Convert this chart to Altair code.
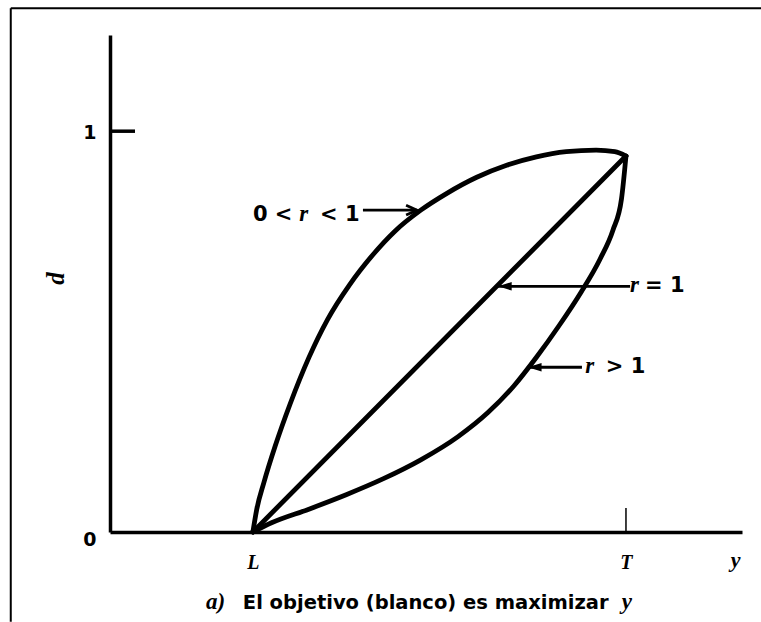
import altair as alt
import pandas as pd

# Response scaled so that L -> 0 and T -> 1; d is the desirability.
t_concave = [0.0, 0.01, 0.03, 0.06, 0.10, 0.15, 0.20, 0.26, 0.32, 0.38,
             0.45, 0.52, 0.60, 0.68, 0.76, 0.84, 0.92, 0.97, 1.0]
d_concave = [0.0, 0.055, 0.125, 0.215, 0.320, 0.435, 0.530, 0.618, 0.690, 0.750,
             0.803, 0.845, 0.885, 0.915, 0.936, 0.949, 0.953, 0.949, 0.938]
t_linear = [0.0, 1.0]
d_linear = [0.0, 0.938]
t_convex = [0.0, 0.05, 0.15, 0.25, 0.35, 0.45, 0.55, 0.63, 0.70, 0.76,
            0.82, 0.88, 0.93, 0.965, 0.988, 1.0]
d_convex = [0.0, 0.023, 0.057, 0.093, 0.133, 0.180, 0.238, 0.298, 0.365, 0.436,
            0.514, 0.599, 0.680, 0.753, 0.831, 0.938]

x_ticks = [0, 1]
x_tick_labels = ["L", "T"]
y_ticks = [0, 1]

X_DOMAIN = [-0.383, 1.311]
Y_DOMAIN = [0, 1.24]

curves = pd.concat([
    pd.DataFrame({"t": t_concave, "d": d_concave, "serie": "0<r<1", "orden": range(len(t_concave))}),
    pd.DataFrame({"t": t_linear, "d": d_linear, "serie": "r=1", "orden": range(len(t_linear))}),
    pd.DataFrame({"t": t_convex, "d": d_convex, "serie": "r>1", "orden": range(len(t_convex))}),
])

xs = alt.Scale(domain=X_DOMAIN, nice=False, zero=False)
ys = alt.Scale(domain=Y_DOMAIN, nice=False, zero=False)

label_map = "{" + ", ".join(f"'{v}': '{s}'" for v, s in zip(x_ticks, x_tick_labels)) + "}"

x_axis = alt.Axis(
    values=x_ticks, labelExpr=f"{label_map}[datum.value + '']",
    ticks=False, tickSize=0, grid=False, domainColor="black", domainWidth=3.5,
    labelFont="Liberation Serif", labelFontStyle="italic", labelFontWeight="bold",
    labelFontSize=20, labelColor="black", labelBaseline="alphabetic", labelPadding=36,
    labelFlush=False, labelOverlap=False,
    title="y", titleFont="Liberation Serif", titleFontStyle="italic", titleFontWeight="bold",
    titleFontSize=22, titleColor="black", titleX=625, titleY=34, titleAlign="center",
    titleBaseline="alphabetic", titleAngle=0,
)
y_axis = alt.Axis(
    values=y_ticks, format="d", ticks=False, tickSize=0, grid=False,
    domainColor="black", domainWidth=3.5,
    labelFont="DejaVu Sans", labelFontWeight="bold", labelFontSize=19, labelColor="black",
    labelPadding=14, labelBaseline="middle",
    labelOffset={"condition": {"test": "datum.value == 0", "value": 7}, "value": 1},
    title="d", titleFont="Liberation Serif", titleFontStyle="italic", titleFontWeight="bold",
    titleFontSize=25, titleColor="black", titleAngle=270, titleX=-55, titleY=243,
    titleAlign="center", titleBaseline="middle",
)

lines = alt.Chart(curves).mark_line(
    color="black", strokeWidth=4.8, strokeCap="round", strokeJoin="round",
    interpolate="monotone",
).encode(
    x=alt.X("t:Q", scale=xs, axis=x_axis),
    y=alt.Y("d:Q", scale=ys, axis=y_axis),
    detail="serie:N",
    order="orden:Q",
)

# Short marks on the axes, the frame round the figure and the arrow shafts
segments = pd.DataFrame({
    "x1": [-0.383, 1.0, -0.649, -0.649, 0.295, 0.657, 0.737],
    "x2": [-0.316, 1.0, -0.649, 1.362, 0.440, 1.011, 0.882],
    "y1": [1.0, 0.0, -0.224, 1.307, 0.803, 0.613, 0.411],
    "y2": [1.0, 0.06, 1.307, 1.307, 0.803, 0.613, 0.411],
    "w": [3.5, 1.5, 2.0, 2.0, 2.8, 2.8, 2.8],
})
rules = alt.Chart(segments).mark_rule(color="black").encode(
    x=alt.X("x1:Q", scale=xs), x2="x2:Q",
    y=alt.Y("y1:Q", scale=ys), y2="y2:Q",
    strokeWidth=alt.StrokeWidth("w:Q", scale=None),
)

head_left = pd.DataFrame({"t": [0.657, 0.737], "d": [0.613, 0.411]})
heads = alt.Chart(head_left).mark_point(
    shape="M0,0L2.4,-0.75L2.4,0.75Z", size=130, filled=True, color="black", opacity=1,
).encode(x=alt.X("t:Q", scale=xs), y=alt.Y("d:Q", scale=ys))

head_right = pd.DataFrame({"t": [0.440], "d": [0.803]})
chevron = alt.Chart(head_right).mark_point(
    shape="M-2,-0.9L0,0L-2,0.9", size=120, filled=False, color="black",
    strokeWidth=2.8, opacity=1,
).encode(x=alt.X("t:Q", scale=xs), y=alt.Y("d:Q", scale=ys))

ann_text = pd.DataFrame({
    "t": [0.0, 0.180, 1.051, 0.946],
    "d": [0.776, 0.776, 0.599, 0.397],
    "txt": ["0 <", "< 1", "=  1", "> 1"],
})
caption_text = pd.DataFrame({
    "t": [-0.027],
    "d": [-0.192],
    "txt": ["El objetivo (blanco) es maximizar"],
})
serif_text = pd.DataFrame({
    "t": [0.124, 1.011, 0.891, -0.126, 0.989],
    "d": [0.776, 0.599, 0.397, -0.192, -0.192],
    "txt": ["r", "r", "r", "a)", "y"],
})

ann = alt.Chart(ann_text).mark_text(
    font="DejaVu Sans", fontWeight="bold", fontSize=21, color="black",
    align="left", baseline="alphabetic",
).encode(x=alt.X("t:Q", scale=xs), y=alt.Y("d:Q", scale=ys), text="txt:N")

caption = alt.Chart(caption_text).mark_text(
    font="DejaVu Sans", fontWeight="bold", fontSize=19.5, color="black",
    align="left", baseline="alphabetic",
).encode(x=alt.X("t:Q", scale=xs), y=alt.Y("d:Q", scale=ys), text="txt:N")

serif = alt.Chart(serif_text).mark_text(
    font="Liberation Serif", fontStyle="italic", fontWeight="bold", fontSize=23,
    color="black", align="left", baseline="alphabetic",
).encode(x=alt.X("t:Q", scale=xs), y=alt.Y("d:Q", scale=ys), text="txt:N")

chart = alt.layer(lines, rules, heads, chevron, ann, caption, serif).properties(
    width=632, height=497,
    padding={"left": 110, "top": 35, "right": 19, "bottom": 90},
    autosize=alt.AutoSizeParams(type="none"),
    background="white",
).configure_view(strokeWidth=0)

chart.save("out.html", embed_options={"renderer": "svg", "actions": False})
